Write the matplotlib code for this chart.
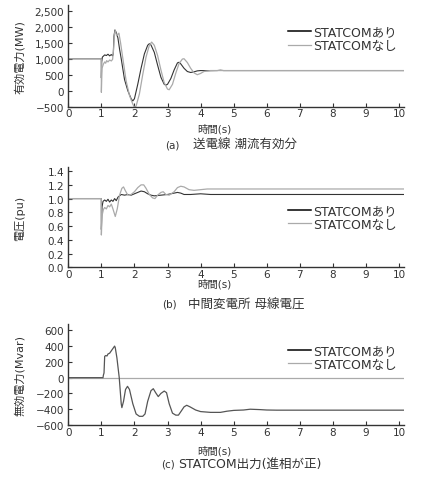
import matplotlib
matplotlib.use("Agg")
import matplotlib.pyplot as plt

plt.rcParams['font.family'] = ['DejaVu Sans', 'Noto Sans CJK JP']
plt.rcParams['axes.unicode_minus'] = True

# (a) 送電線 潮流有効分 [MW]
a_t_on = [0, 0.999, 1.0, 1.01, 1.03, 1.06, 1.1, 1.15, 1.2, 1.25, 1.3, 1.34, 1.36, 1.38, 1.41,
          1.45, 1.5, 1.55, 1.6, 1.7, 1.8, 1.9, 1.95, 2.0, 2.1, 2.2, 2.3, 2.4, 2.45, 2.5, 2.6,
          2.7, 2.8, 2.9, 2.95, 3.0, 3.1, 3.2, 3.3, 3.35, 3.4, 3.5, 3.6, 3.7, 3.8, 3.9, 4.0,
          4.2, 4.5, 4.6, 4.7, 10.15]
a_p_on = [1000, 1000, 400, 900, 1050, 1080, 1120, 1100, 1140, 1090, 1130, 1090, 1150, 1700, 1900,
          1820, 1650, 1300, 1000, 350, 0, -250, -320, -250, 200, 700, 1150, 1420, 1470, 1430, 1200,
          800, 420, 200, 175, 200, 380, 650, 870, 890, 840, 700, 600, 570, 590, 620, 630,
          625, 630, 640, 630, 630]
a_t_off = [0, 0.999, 1.0, 1.02, 1.06, 1.1, 1.13, 1.16, 1.2, 1.25, 1.3, 1.34, 1.37, 1.39, 1.42,
           1.46, 1.5, 1.53, 1.58, 1.65, 1.75, 1.85, 1.95, 2.0, 2.05, 2.15, 2.25, 2.35, 2.45, 2.52,
           2.6, 2.7, 2.8, 2.9, 3.0, 3.05, 3.15, 3.25, 3.35, 3.45, 3.5, 3.6, 3.7, 3.8, 3.9, 4.0,
           4.1, 4.3, 10.15]
a_p_off = [1000, 1000, -50, 700, 830, 900, 860, 940, 900, 960, 930, 980, 1300, 1750, 1880,
           1720, 1760, 1800, 1500, 1000, 300, -150, -420, -520, -480, -100, 500, 1050, 1420, 1520,
           1420, 1100, 650, 250, 50, 30, 200, 550, 850, 990, 1000, 880, 700, 560, 500, 540,
           600, 630, 630]

# (b) 中間変電所 母線電圧 [pu]
b_t_on = [0, 0.999, 1.0, 1.02, 1.05, 1.1, 1.15, 1.2, 1.25, 1.3, 1.35, 1.4, 1.45, 1.5, 1.6, 1.7,
          1.8, 1.9, 2.0, 2.1, 2.2, 2.3, 2.4, 2.5, 2.6, 2.8, 3.0, 3.2, 3.3, 3.4, 3.5, 3.7, 4.0,
          4.3, 10.15]
b_v_on = [1.0, 1.0, 0.55, 0.88, 0.96, 0.98, 0.96, 0.99, 0.95, 0.98, 0.96, 1.0, 0.97, 1.02, 1.06, 1.05,
          1.06, 1.05, 1.07, 1.09, 1.11, 1.1, 1.07, 1.05, 1.04, 1.05, 1.06, 1.08, 1.09, 1.08, 1.06, 1.06, 1.07,
          1.06, 1.06]
b_t_off = [0, 0.999, 1.0, 1.02, 1.06, 1.1, 1.15, 1.2, 1.25, 1.3, 1.35, 1.42, 1.48, 1.55, 1.62, 1.67,
           1.72, 1.8, 1.9, 2.0, 2.1, 2.2, 2.28, 2.35, 2.45, 2.55, 2.62, 2.7, 2.8, 2.87, 2.95, 3.05,
           3.2, 3.3, 3.4, 3.5, 3.65, 3.8, 4.0, 4.2, 10.15]
b_v_off = [1.0, 1.0, 0.47, 0.75, 0.84, 0.87, 0.85, 0.9, 0.88, 0.92, 0.85, 0.74, 0.85, 1.05, 1.15, 1.17,
           1.12, 1.05, 1.06, 1.1, 1.16, 1.2, 1.2, 1.15, 1.06, 1.01, 1.0, 1.05, 1.09, 1.1, 1.06, 1.05,
           1.1, 1.16, 1.18, 1.17, 1.13, 1.12, 1.13, 1.14, 1.14]

# (c) STATCOM出力 [Mvar]
c_t_on = [0, 1.05, 1.06, 1.08, 1.1, 1.13, 1.17, 1.2, 1.25, 1.3, 1.35, 1.4, 1.42, 1.47, 1.54, 1.6,
          1.62, 1.67, 1.73, 1.79, 1.85, 1.95, 2.05, 2.15, 2.25, 2.32, 2.4, 2.5, 2.57, 2.64, 2.72,
          2.8, 2.9, 2.97, 3.05, 3.15, 3.25, 3.33, 3.42, 3.5, 3.58, 3.68, 3.85, 4.0, 4.3, 4.6, 4.8,
          5.0, 5.3, 5.5, 5.8, 6.0, 6.3, 10.15]
c_q_on = [0, 0, 30, 60, 270, 280, 275, 300, 310, 340, 370, 400, 380, 250, 0, -330,
          -380, -300, -150, -110, -150, -330, -460, -490, -490, -460, -300, -165, -140, -190, -240,
          -200, -170, -190, -330, -450, -475, -475, -420, -370, -350, -370, -410, -430, -440, -440, -425,
          -415, -410, -400, -405, -410, -412, -412]
c_t_off = [0, 10.15]
c_q_off = [0, 0]

a_yticks = [-500, 0, 500, 1000, 1500, 2000, 2500]
b_yticks = [0.0, 0.2, 0.4, 0.6, 0.8, 1.0, 1.2, 1.4]
c_yticks = [-600, -400, -200, 0, 200, 400, 600]
x_ticks = list(range(0, 11))

labels = ['STATCOMあり', 'STATCOMなし']
captions = [('(a)', '送電線 潮流有効分'), ('(b)', '中間変電所 母線電圧'),
            ('(c)', 'STATCOM出力(進相が正)')]
text_col = '#333333'
col_on = '#333333'
col_off = '#aaaaaa'

W, H = 421, 481
fig = plt.figure(figsize=(W / 100, H / 100), dpi=100)


def make_axes(top_px, bottom_px):
    left_px, right_px = 68.3, 404
    return fig.add_axes([left_px / W, 1 - bottom_px / H,
                         (right_px - left_px) / W, (bottom_px - top_px) / H])


def style(ax, yticks, ylabels, ylim, ylabel):
    ax.set_xlim(0, 10.15)
    ax.set_ylim(*ylim)
    ax.set_xticks(x_ticks)
    ax.set_xticklabels([str(v) for v in x_ticks])
    ax.set_yticks(yticks)
    ax.set_yticklabels(ylabels)
    for s in ['top', 'right']:
        ax.spines[s].set_visible(False)
    for s in ['left', 'bottom']:
        ax.spines[s].set_color(text_col)
        ax.spines[s].set_linewidth(1.0)
    ax.tick_params(direction='in', length=3, width=0.8, colors=text_col,
                   labelsize=7.5)
    ax.tick_params(axis='x', pad=1.2)
    ax.tick_params(axis='y', pad=3)
    ax.set_ylabel(ylabel, fontsize=8, color=text_col)
    ax.yaxis.set_label_coords(-0.128, 0.5)


def fmt(v):
    return f"{v:,}".replace('-', '\u2212')


# (a)
ax1 = make_axes(6, 107.7)
ax1.plot(a_t_on, a_p_on, color=col_on, lw=0.8, label=labels[0])
ax1.plot(a_t_off, a_p_off, color=col_off, lw=0.9, label=labels[1])
style(ax1, a_yticks, [fmt(v) for v in a_yticks], (-500, 2680), '有効電力(MW)')

# (b)
ax2 = make_axes(168, 268.3)
ax2.plot(b_t_on, b_v_on, color=col_on, lw=0.8, label=labels[0])
ax2.plot(b_t_off, b_v_off, color=col_off, lw=0.9, label=labels[1])
style(ax2, b_yticks, [f"{v:.1f}" for v in b_yticks], (0, 1.46), '電圧(pu)')

# (c)
ax3 = make_axes(325, 426)
ax3.plot(c_t_off, c_q_off, color=col_off, lw=0.9, label=labels[1])
ax3.plot(c_t_on, c_q_on, color='#555555', lw=0.9, label=labels[0])
style(ax3, c_yticks, [fmt(v) for v in c_yticks], (-600, 680), '無効電力(Mvar)')

for ax, ly in [(ax1, 0.80), (ax2, 0.63), (ax3, 0.80)]:
    h, l = ax.get_legend_handles_labels()
    order = [l.index(labels[0]), l.index(labels[1])]
    leg = ax.legend([h[i] for i in order], [l[i] for i in order], loc='upper left',
                    bbox_to_anchor=(0.655, ly), frameon=False, fontsize=9,
                    handlelength=1.8, handletextpad=0.2, labelspacing=0.05,
                    borderpad=0, borderaxespad=0)
    leg.legend_handles[0].set_color('black')
    leg.legend_handles[0].set_linewidth(1.1)
    for txt in leg.get_texts():
        txt.set_color(text_col)

# x labels and captions
for y in [1 - 129.5 / H, 1 - 284.5 / H, 1 - 451 / H]:
    fig.text(0.509, y, '時間(s)', ha='center', va='center', fontsize=7.5, color=text_col)

cap_y = [1 - 145.7 / H, 1 - 305 / H, 1 - 465 / H]
tag_x = [165 / W, 162 / W, 161 / W]
cap_x = [193 / W, 188 / W, 178 / W]
for (tag, body), y, tx, x in zip(captions, cap_y, tag_x, cap_x):
    fig.text(tx, y, tag, ha='left', va='center', fontsize=7.5, color=text_col)
    fig.text(x, y, body, ha='left', va='center', fontsize=9, color=text_col)

fig.savefig('out.png', dpi=100)
